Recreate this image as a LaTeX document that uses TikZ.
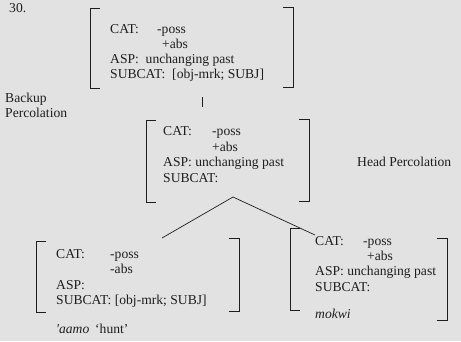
\documentclass[tikz,border=0pt]{standalone}
\usepackage{fontspec}
\setmainfont{Liberation Serif}
\definecolor{paper}{RGB}{226,226,226}
\definecolor{ink}{RGB}{30,30,30}
\begin{document}
\begin{tikzpicture}[x=1pt,y=-1pt,
  txt/.style={anchor=base west, inner sep=0pt, text=ink, font=\fontsize{13.6}{15}\selectfont},
  itxt/.style={txt, font=\fontsize{13.6}{15}\selectfont\itshape},
  brk/.style={draw=ink, line width=0.8pt},
  lnk/.style={draw=ink, line width=0.7pt}]
\fill[paper] (0,0) rectangle (461,341);
\useasboundingbox (0,0) rectangle (461,341);
% labels
\node[txt] (n30) at (9,12) {30.};
\node[txt] (bk) at (5,102) {Backup};
\node[txt] (pc) at (5,117) {Percolation};
\node[txt] (hp) at (357,166) {Head Percolation};
% top matrix
\draw[brk] (100,8) -- (90,8) -- (90,88) -- (100,88);
\draw[brk] (283,7) -- (293,7) -- (293,87) -- (283,87);
\node[txt] (tcat) at (110,33) {CAT:};
\node[txt] (tposs) at (157,33) {-poss};
\node[txt] (tabs) at (162,48) {+abs};
\node[txt] (tasp) at (110,63) {ASP:\ \ unchanging past};
\node[txt] (tsub) at (110,78) {SUBCAT:\ \ [obj-mrk; SUBJ]};
% link
\coordinate (vt) at (202,97);
\coordinate (vb) at (202,107);
\draw[lnk] (vt) -- (vb);
% middle matrix
\draw[brk] (156,120) -- (146,120) -- (146,202) -- (156,202);
\draw[brk] (299,119) -- (309,119) -- (309,201) -- (299,201);
\node[txt] (mcat) at (163,135) {CAT:};
\node[txt] (mposs) at (212,135) {-poss};
\node[txt] (mabs) at (212,151) {+abs};
\node[txt] (masp) at (163,166) {ASP: unchanging past};
\node[txt] (msub) at (163,182) {SUBCAT:};
% triangle
\coordinate (apex) at (233,197);
\coordinate (lend) at (162,238);
\coordinate (rend) at (315,235);
\draw[lnk] (lend) -- (apex) -- (rend);
% bottom left matrix
\draw[brk] (46,241) -- (36,241) -- (36,312) -- (46,312);
\draw[brk] (229,238) -- (239,238) -- (239,311) -- (229,311);
\node[txt] (lcat) at (56,258) {CAT:};
\node[txt] (lposs) at (110,258) {-poss};
\node[txt] (labs) at (110,273) {-abs};
\node[txt] (lasp) at (56,289) {ASP:};
\node[txt] (lsub) at (56,304) {SUBCAT: [obj-mrk; SUBJ]};
\node[itxt] (aamo) at (56,333) {\textquotesingle aamo};
\node[txt] (hunt) at (95,333) {‘hunt’};
% bottom right matrix
\draw[brk] (300,228) -- (290,228) -- (290,310) -- (300,310);
\draw[brk] (437,238) -- (447,238) -- (447,320) -- (437,320);
\node[txt] (rcat) at (315,245) {CAT:};
\node[txt] (rposs) at (363,245) {-poss};
\node[txt] (rabs) at (367,260) {+abs};
\node[txt] (rasp) at (315,275) {ASP: unchanging past};
\node[txt] (rsub) at (315,291) {SUBCAT:};
\node[itxt] (mokwi) at (315,318) {mokwi};
\end{tikzpicture}
\end{document}
